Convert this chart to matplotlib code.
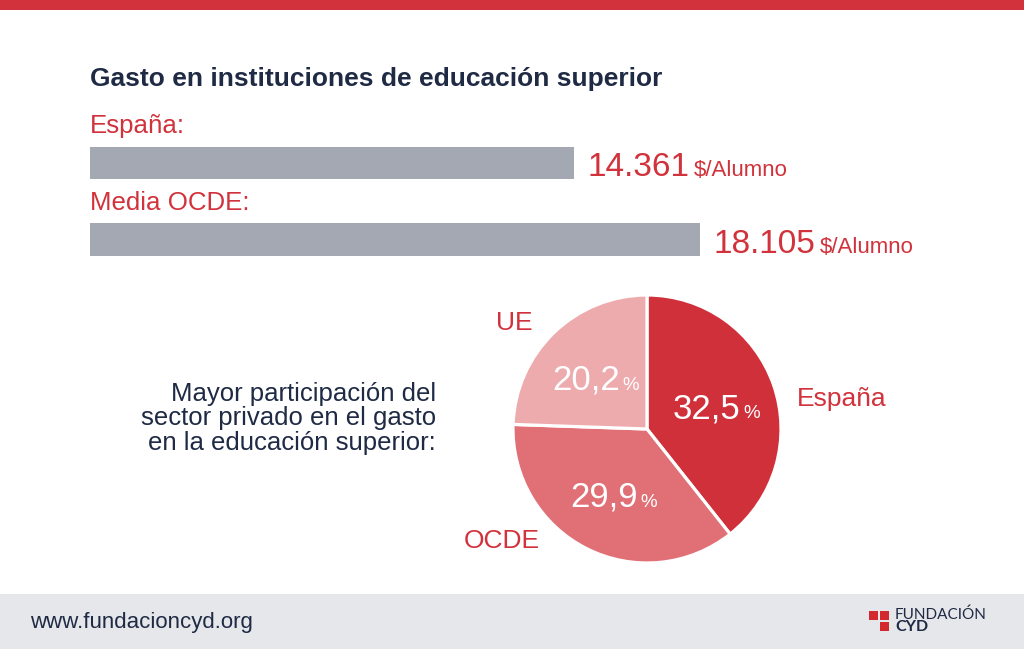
import numpy as np
import matplotlib.pyplot as plt
from matplotlib.patches import Rectangle

# datos
paises = ["España:", "Media OCDE:"]
gasto = [14361, 18105]          # $/alumno
unidad = "$/Alumno"

sectores = ["España", "OCDE", "UE"]
privado = [32.5, 29.9, 20.2]    # % participación privada

ROJO = "#D1323B"
NAVY = "#1F2A44"
GRIS = "#A4A8B3"
colores_pie = ["#D0303A", "#E07076", "#EDABAE"]

plt.rcParams["font.family"] = ["Liberation Sans", "DejaVu Sans"]

W, H = 1024, 649
fig = plt.figure(figsize=(W / 100, H / 100), dpi=100)
fig.patch.set_facecolor("white")


def caja(x0, y0, x1, y1):
    # posicion en pixeles (origen arriba a la izquierda) -> fraccion de figura
    return [x0 / W, 1 - y1 / H, (x1 - x0) / W, (y1 - y0) / H]


# fondo: banda roja arriba, pie de pagina gris
bg = fig.add_axes([0, 0, 1, 1])
bg.set_xlim(0, W)
bg.set_ylim(H, 0)
bg.axis("off")
bg.add_patch(Rectangle((0, 0), W, 10, color=ROJO, lw=0))
bg.add_patch(Rectangle((0, 594), W, H - 594, color="#E6E7EA", lw=0))

bg.text(90, 86, "Gasto en instituciones de educación superior", fontsize=19,
        fontweight="bold", color=NAVY, va="baseline")
# va='baseline' en texto multilinea -> baseline de la ultima linea
bg.text(436, 450, "Mayor participación del\nsector privado en el gasto\nen la educación superior:",
        fontsize=18.5, color=NAVY, ha="right", va="baseline", linespacing=1.03,
        multialignment="right")
bg.text(30, 628, "www.fundacioncyd.org", fontsize=16, color=NAVY, va="baseline")

# logo
for (x, y) in [(869, 611), (880, 611), (880, 622)]:
    bg.add_patch(Rectangle((x, y), 8.5, 8.5, color="#D4282F", lw=0))
bg.text(895, 619, "FUNDACIÓN", fontsize=11, color=NAVY, va="baseline",
        family=["Lato", "DejaVu Sans"])
bg.text(895, 631, "CYD", fontsize=11.5, color=NAVY, va="baseline", fontweight="bold",
        family=["Lato", "DejaVu Sans"])

# barras
axb = fig.add_axes(caja(90, 140, 700, 265))
axb.set_xlim(0, max(gasto))
axb.set_ylim(1.333, -0.30)
axb.axis("off")
y = list(range(len(gasto)))
axb.barh(y, gasto, height=0.425, color=GRIS)

r = fig.canvas.get_renderer()
for i, (p, v) in enumerate(zip(paises, gasto)):
    axb.text(0, i - 0.39, p, fontsize=18.6, color=ROJO, va="baseline")
    num = f"{v:,}".replace(",", ".")
    t1 = axb.annotate(num, (v, i), xytext=(14, -13), textcoords="offset pixels",
                      fontsize=24, color=ROJO, va="baseline", ha="left")
    w1 = t1.get_window_extent(r).width
    axb.annotate(unidad, (v, i), xytext=(14 + w1 + 4, -13), textcoords="offset pixels",
                 fontsize=16, color=ROJO, va="baseline", ha="left")

# tarta
axp = fig.add_axes(caja(513, 295, 781, 563))
wedges, _ = axp.pie(privado, colors=colores_pie, startangle=90, counterclock=False,
                    wedgeprops=dict(edgecolor="white", linewidth=2.3))
axp.set_xlim(-1, 1)
axp.set_ylim(-1, 1)
axp.set_aspect("equal")

for w, v in zip(wedges, privado):
    mid = np.deg2rad((w.theta1 + w.theta2) / 2)
    xy = (0.55 * np.cos(mid), 0.54 * np.sin(mid))
    num = f"{v:.1f}".replace(".", ",")
    t1 = axp.annotate(num, xy, xytext=(0, -13), textcoords="offset pixels",
                      fontsize=25, color="white", va="baseline", ha="left")
    t2 = axp.annotate("%", xy, xytext=(0, -13), textcoords="offset pixels",
                      fontsize=13.5, color="white", va="baseline", ha="left")
    w1 = t1.get_window_extent(r).width
    w2 = t2.get_window_extent(r).width
    x0 = -(w1 + w2 + 3) / 2
    t1.xyann = (x0, -13)
    t2.xyann = (x0 + w1 + 3, -13)

pos_etiquetas = {"España": (1.12, 0.17, "left"),
                 "UE": (-1.13, 0.74, "left"),
                 "OCDE": (-0.80, -0.89, "right")}
for s in sectores:
    x, yy, ha = pos_etiquetas[s]
    axp.text(x, yy, s, fontsize=19, color=ROJO, ha=ha, va="baseline")

fig.savefig("out.png", dpi=100)
